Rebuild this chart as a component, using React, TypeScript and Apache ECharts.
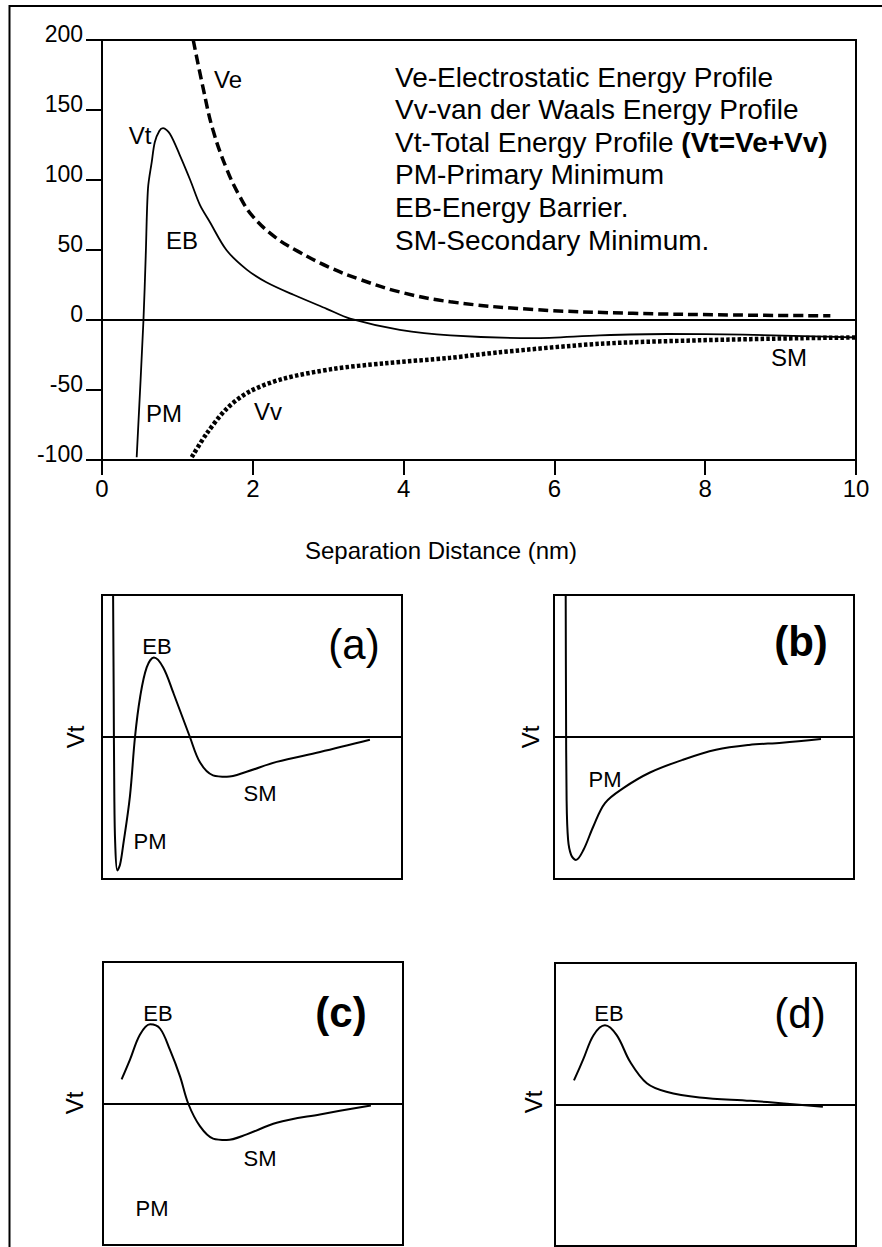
import React, { useEffect, useRef } from "react";
import * as echarts from "echarts";

// ---------- Main chart data (separation distance nm, energy) ----------
const xTickValues = [0, 2, 4, 6, 8, 10];
const yTickValues = [-100, -50, 0, 50, 100, 150, 200];

const veDist = [1.21, 1.34, 1.47, 1.66, 1.83, 2.0, 2.3, 2.6, 3.0, 3.42, 3.95, 4.62, 5.72, 7.04, 8.37, 9.66];
const veEnergy = [200, 166, 136, 107, 88, 74, 59, 49, 38, 29, 20, 13, 7.5, 4.8, 3.6, 3];

const vvDist = [1.19, 1.39, 1.66, 1.96, 2.4, 3.06, 3.73, 4.62, 5.28, 6.6, 7.93, 9.26, 10];
const vvEnergy = [-98, -81, -63, -51, -42, -35, -31, -27, -23, -17, -14.5, -13, -12.5];

const vtDist = [0.46, 0.55, 0.58, 0.61, 0.66, 0.7, 0.76, 0.81, 0.9, 1.03, 1.17, 1.3, 1.43, 1.65, 1.92, 2.18, 2.54, 2.98, 3.29, 3.95, 4.62, 5.72, 6.6, 7.5, 8.5, 9.3, 10];
const vtEnergy = [-98, 0, 46, 94, 113, 127, 135, 137, 133, 118, 100, 82, 70, 50, 36, 27, 18, 8, 1, -7, -11, -13, -11, -10, -10.5, -11.5, -12.5];

// ---------- Panel data (relative units) ----------
const aX = [3.7, 3.9, 4.1, 4.4, 5.1, 6, 7, 9.3, 11, 12.7, 14.9, 17.3, 20.4, 23.8, 29.3, 32.7, 37, 41.6, 48.2, 58.2, 72.7, 89.3];
const aY = [100, 30, -40, -75, -94, -90, -77, -42, 0, 28, 49, 56, 49, 31, 0, -18, -27, -28, -24.5, -17.5, -10.6, -2];

const bX = [3.9, 4.0, 4.2, 4.7, 5.7, 7.3, 9.8, 13.1, 17, 23.1, 32, 43, 54, 65, 76, 89];
const bY = [100, 26, -44, -72.5, -83, -86.6, -79.6, -63, -46.5, -36, -25, -16, -9, -5.6, -4, -1.4];

const cX = [6.2, 9, 12.3, 15.7, 19, 22.3, 25.7, 28.4, 32.3, 36.7, 41.2, 47.9, 57.9, 72.3, 89.3];
const cY = [17, 31, 48.6, 56, 53, 38, 19, 0, -16, -24.8, -25.8, -21.8, -13.6, -7.7, -1.4];

const dX = [6.3, 9.4, 12.8, 16.6, 20.5, 25, 30.5, 37, 48, 65, 76, 89];
const dY = [17, 32, 49, 56, 49, 30, 15, 9, 5, 2.6, 0.7, -1.6];

const legendLines = [
  "Ve-Electrostatic Energy Profile",
  "Vv-van der Waals Energy Profile",
  "Vt-Total Energy Profile {b|(Vt=Ve+Vv)}",
  "PM-Primary Minimum",
  "EB-Energy Barrier.",
  "SM-Secondary Minimum.",
];

const FONT = "'Liberation Sans', Arial, Helvetica, sans-serif";

const zip = (xs: number[], ys: number[]) => xs.map((x, i) => [x, ys[i]]);

function txt(x: number, y: number, text: string, size: number, extra: any = {}, rotation = 0) {
  return {
    type: "text",
    x,
    y,
    rotation,
    style: {
      text,
      fontSize: size,
      fontFamily: FONT,
      fill: "#000",
      align: "center",
      verticalAlign: "middle",
      ...extra,
    },
  };
}

export default function App() {
  const ref = useRef<HTMLDivElement>(null);

  useEffect(() => {
    document.body.style.margin = "0";
    if (!ref.current) return;
    const chart = echarts.init(ref.current, undefined, { renderer: "svg" });

    const panelAxes = (n: number) => ({
      x: Array.from({ length: n }, (_, i) => ({
        type: "value",
        gridIndex: i + 1,
        min: 0,
        max: 100,
        show: false,
      })),
      y: Array.from({ length: n }, (_, i) => ({
        type: "value",
        gridIndex: i + 1,
        min: -100,
        max: 100,
        show: false,
      })),
    });
    const pa = panelAxes(4);

    const zeroLine = (w = 2) => ({
      silent: true,
      symbol: ["none", "none"],
      label: { show: false },
      lineStyle: { color: "#000", type: "solid", width: w },
      data: [{ yAxis: 0 }],
    });

    const panelSeries = (idx: number, xs: number[], ys: number[]) => ({
      type: "line",
      xAxisIndex: idx,
      yAxisIndex: idx,
      data: zip(xs, ys),
      showSymbol: false,
      smooth: 0.35,
      lineStyle: { color: "#000", width: 2 },
      markLine: zeroLine(2),
      z: 3,
    });

    const gridBox = (left: number, top: number, width: number, height: number) => ({
      left,
      top,
      width,
      height,
      show: true,
      borderColor: "#000",
      borderWidth: 2,
      backgroundColor: "transparent",
    });

    const option: any = {
      animation: false,
      backgroundColor: "#fff",
      textStyle: { fontFamily: FONT },
      grid: [
        gridBox(102, 40, 754, 420),
        gridBox(102, 595, 300, 284),
        gridBox(554, 595, 300, 284),
        gridBox(103, 962, 300, 283),
        gridBox(555, 963, 301, 283),
      ],
      xAxis: [
        {
          type: "value",
          gridIndex: 0,
          min: 0,
          max: 10,
          interval: 2,
          axisLine: { show: true, onZero: false, lineStyle: { color: "#000", width: 2 } },
          axisTick: { show: true, length: 15, lineStyle: { color: "#000", width: 2 } },
          axisLabel: {
            color: "#000",
            fontSize: 24,
            fontFamily: FONT,
            margin: 16,
            formatter: (v: number) => (xTickValues.includes(v) ? String(v) : ""),
          },
          splitLine: { show: false },
        },
        ...pa.x,
      ],
      yAxis: [
        {
          type: "value",
          gridIndex: 0,
          min: -100,
          max: 200,
          interval: 50,
          axisLine: { show: true, onZero: false, lineStyle: { color: "#000", width: 2 } },
          axisTick: { show: true, length: 16, lineStyle: { color: "#000", width: 2 } },
          axisLabel: {
            color: "#000",
            fontSize: 23,
            fontFamily: FONT,
            margin: 19,
            verticalAlign: "bottom",
            lineHeight: 12,
            formatter: (v: number) => (yTickValues.includes(v) ? String(v) : ""),
          },
          splitLine: { show: false },
        },
        ...pa.y,
      ],
      series: [
        {
          name: "Vt",
          type: "line",
          data: zip(vtDist, vtEnergy),
          showSymbol: false,
          smooth: 0.3,
          lineStyle: { color: "#000", width: 1.8 },
          markLine: zeroLine(2),
          z: 4,
        },
        {
          name: "Ve",
          type: "line",
          data: zip(veDist, veEnergy),
          showSymbol: false,
          smooth: 0.4,
          lineStyle: { color: "#000", width: 3.5, type: [10, 5], cap: "butt" },
          z: 3,
        },
        {
          name: "Vv",
          type: "line",
          data: zip(vvDist, vvEnergy),
          showSymbol: false,
          smooth: 0.3,
          lineStyle: { color: "#000", width: 4.5, type: [3.5, 2.2], cap: "butt" },
          z: 3,
        },
        panelSeries(1, aX, aY),
        panelSeries(2, bX, bY),
        panelSeries(3, cX, cY),
        panelSeries(4, dX, dY),
      ],
      graphic: [
        // outer frame
        {
          type: "rect",
          shape: { x: 9.5, y: 6, width: 1000, height: 1400 },
          style: { fill: "none", stroke: "#000", lineWidth: 2 },
          silent: true,
        },
        // legend block
        ...legendLines.map((t, i) =>
          txt(395, 77 + i * 32.6, t, 28, {
            align: "left",
            rich: { b: { fontWeight: "bold", fontSize: 28, fontFamily: FONT } },
          })
        ),
        // curve labels (main)
        txt(228, 79, "Ve", 24),
        txt(140, 135, "Vt", 24),
        txt(182, 240, "EB", 24),
        txt(164, 413, "PM", 24),
        txt(268, 411, "Vv", 24),
        txt(789, 357, "SM", 24),
        txt(441, 550, "Separation Distance (nm)", 24),
        // panel (a)
        txt(75, 737, "Vt", 24, {}, Math.PI / 2),
        txt(157, 646, "EB", 22),
        txt(354, 644, "(a)", 42),
        txt(260, 793, "SM", 22),
        txt(150, 841, "PM", 22),
        // panel (b)
        txt(530, 737, "Vt", 24, {}, Math.PI / 2),
        txt(801, 641, "(b)", 42, { fontWeight: "bold" }),
        txt(605, 779, "PM", 22),
        // panel (c)
        txt(74, 1103, "Vt", 24, {}, Math.PI / 2),
        txt(158, 1013, "EB", 22),
        txt(341, 1012, "(c)", 42, { fontWeight: "bold" }),
        txt(260, 1158, "SM", 22),
        txt(152, 1208, "PM", 22),
        // panel (d)
        txt(533, 1102, "Vt", 24, {}, Math.PI / 2),
        txt(609, 1013, "EB", 22),
        txt(800, 1013, "(d)", 42),
      ],
    };

    chart.setOption(option);
    return () => chart.dispose();
  }, []);

  return <div ref={ref} style={{ width: 882, height: 1247 }} />;
}
